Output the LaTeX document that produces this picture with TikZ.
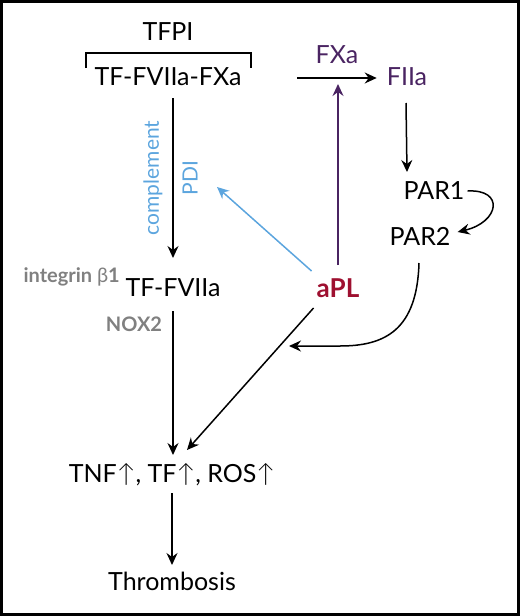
\documentclass[tikz,border=0pt]{standalone}
\usepackage{fontspec}
\setmainfont{Lato}
\newfontfamily\symfont{Lato Light}
\usetikzlibrary{arrows.meta}
\definecolor{fpurple}{HTML}{4A2462}
\definecolor{fblue}{HTML}{5CA5DE}
\definecolor{fred}{HTML}{9E1030}
\definecolor{fgray}{HTML}{808080}
\begin{document}
\begin{tikzpicture}[x=1pt,y=-1pt,
  lab/.style={inner sep=0pt, anchor=base, font=\fontsize{25}{28}\selectfont},
  side/.style={inner sep=0pt, anchor=base, text=fgray, font=\fontsize{20}{22}\selectfont\bfseries},
  rot/.style={inner sep=0pt, rotate=90, text=fblue, font=\fontsize{21}{24}\selectfont},
  arr/.style={line width=1.5pt, -{Stealth[length=12pt,width=11pt,inset=4pt]}},
]
\useasboundingbox (0,0) rectangle (520,616);
\draw[line width=3pt] (1.5,1.5) rectangle (518.5,614.5);

% nodes
\node[lab] (tfpi) at (168,40) {TFPI};
\node[lab] (tfx) at (168,85) {TF-FVIIa-FXa};
\node[lab] (tfv) at (173,296) {TF-FVIIa};
\node[lab] (tnf) at (172,482) {TNF{\symfont↑}, TF{\symfont↑}, ROS{\symfont↑}};
\node[lab] (thr) at (172,590) {Thrombosis};
\node[lab, text=fred, font=\fontsize{26}{28}\selectfont\bfseries] (apl) at (338,297) {aPL};
\node[lab, text=fpurple] (fxa) at (337,63) {FXa};
\node[lab, text=fpurple] (fiia) at (407,85) {FIIa};
\node[lab] (par1) at (434,199) {PAR1};
\node[lab] (par2) at (420,245) {PAR2};
\node[side, anchor=base east] (itg) at (120,282) {integrin {\mdseries β}1};
\node[side] (nox) at (134,331) {NOX2};
\node[rot] (comp) at (153,178) {complement};
\node[rot] (pdi) at (190,178) {PDI};

% bracket over TF-FVIIa-FXa
\draw[line width=1.3pt] ([xshift=-82pt,yshift=17pt]tfx.base) |- ([xshift=83pt,yshift=32pt]tfx.base) -- ([xshift=83pt,yshift=17pt]tfx.base);

% coordinates
\coordinate (hstart) at (297,78);
\coordinate (pdit) at (217,187);
\coordinate (join) at (289,346);

% connectors
\draw[arr] ([yshift=-13pt]tfx.base -| tfv.base) -- ([yshift=38pt]tfv.base);
\draw[arr] ([yshift=-15pt]tfv.base) -- ([yshift=27pt]tnf.base -| tfv.base);
\draw[arr] ([yshift=-11pt]tnf.base) -- ([yshift=25pt]thr.base);
\draw[arr] (hstart) -- ([xshift=-10pt]hstart -| fiia.west);
\draw[arr, fpurple] ([yshift=32pt]apl.base) -- ([yshift=-6pt]apl.base |- hstart);
\draw[arr, fblue] ([xshift=-5pt,yshift=26pt]apl.base west) -- (pdit);
\draw[arr] ([xshift=-3pt,yshift=-11pt]apl.base west) -- ([xshift=15pt,yshift=32pt]tnf.base);
\draw[arr] ([xshift=-1pt,yshift=-18pt]fiia.base) -- ([yshift=27pt]fiia.base |- par1.base);
\draw[arr] ([xshift=3pt,yshift=8pt]par1.base east) .. controls +(37,-2) and +(42,-10) .. ([xshift=7pt,yshift=13pt]par2.base east);
\draw[arr] ([xshift=-1pt,yshift=-18pt]par2.base) .. controls +(-2,67) and +(45,0) .. ([xshift=51pt]join) -- (join);
\end{tikzpicture}
\end{document}
